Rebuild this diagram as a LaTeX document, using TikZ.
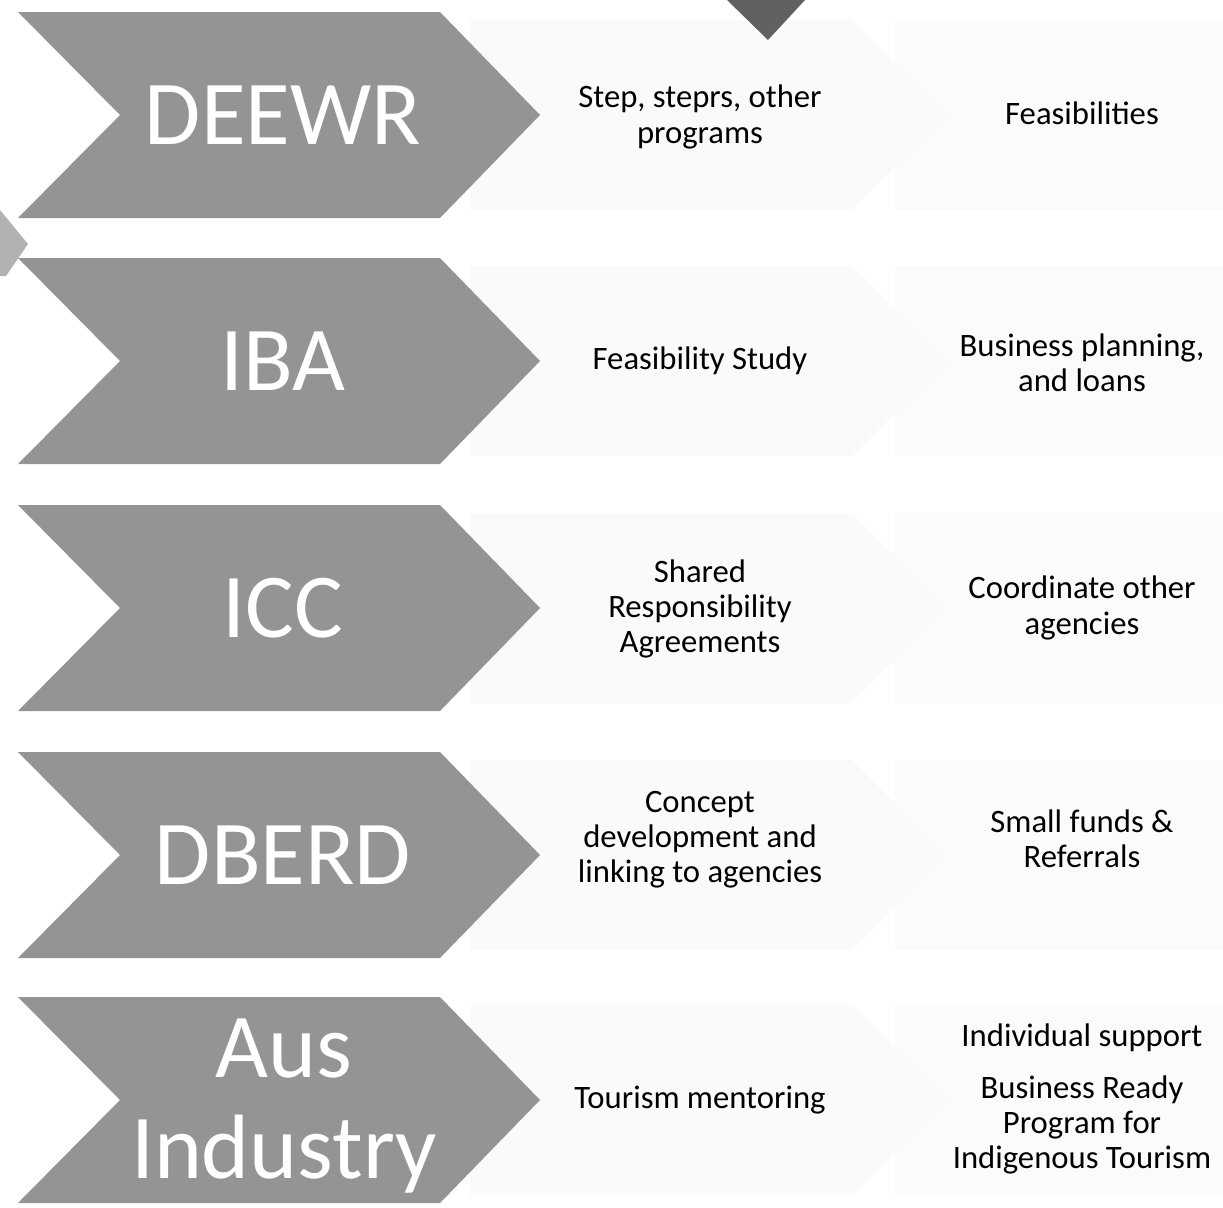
\documentclass[tikz,border=0pt]{standalone}
\usepackage{fontspec}
\setmainfont{Carlito}
\usepackage{tikz}
\usetikzlibrary{positioning}
\tikzstyle{chevron} = [fill=black!42, draw=none]
\tikzstyle{backdrop} = [fill=gray!4, draw=none]
\tikzstyle{farbackdrop} = [fill=gray!3, draw=none]
\tikzstyle{agency} = [text=white, align=center,
    font=\fontsize{52}{58}\selectfont]
\tikzstyle{service} = [text=black, align=center,
    font=\fontsize{18.6}{20}\selectfont]

\begin{document}
\begin{tikzpicture}[x=0.02cm, y=-0.02cm]
    \useasboundingbox (0,0) rectangle (1223,1207);

    % Backdrops
    \fill [farbackdrop] (895,20) rectangle (1223,210);
    \fill [farbackdrop] (895,266) rectangle (1223,456);
    \fill [farbackdrop] (895,513) rectangle (1223,703);
    \fill [farbackdrop] (895,760) rectangle (1223,950);
    \fill [farbackdrop] (895,1005) rectangle (1223,1195);
    \fill [backdrop] (470,20) -- (852,20) -- (947,115) -- (852,210) -- (470,210) -- cycle;
    \fill [backdrop] (470,266) -- (852,266) -- (947,361) -- (852,456) -- (470,456) -- cycle;
    \fill [backdrop] (470,513) -- (852,513) -- (947,608) -- (852,703) -- (470,703) -- cycle;
    \fill [backdrop] (470,760) -- (852,760) -- (947,855) -- (852,950) -- (470,950) -- cycle;
    \fill [backdrop] (470,1005) -- (852,1005) -- (947,1100) -- (852,1195) -- (470,1195) -- cycle;

    % Chevrons
    \fill [chevron] (18,12) -- (440,12) -- (540,115) -- (440,218) -- (18,218) -- (120,115) -- cycle;
    \fill [chevron] (18,258) -- (440,258) -- (540,361) -- (440,464) -- (18,464) -- (120,361) -- cycle;
    \fill [chevron] (18,505) -- (440,505) -- (540,608) -- (440,711) -- (18,711) -- (120,608) -- cycle;
    \fill [chevron] (18,752) -- (440,752) -- (540,855) -- (440,958) -- (18,958) -- (120,855) -- cycle;
    \fill [chevron] (18,997) -- (440,997) -- (540,1100) -- (440,1203) -- (18,1203) -- (120,1100) -- cycle;

    % Cut-off pieces at the edges
    \fill [black!62] (727,0) -- (805,0) -- (768,40) -- cycle;
    \fill [gray!60] (0,210) -- (28,244) -- (6,276) -- (0,276) -- cycle;

    % Nodes
    \node [agency] (deewr) at (283,115) {DEEWR};
    \node [agency] (iba) at (283,361) {IBA};
    \node [agency] (icc) at (283,608) {ICC};
    \node [agency] (dberd) at (283,855) {DBERD};
    \node [agency, inner sep=0pt] (ausind) at (284,1106) {Aus\\Industry};

    \node [service] (step) at (700,117) {Step, steprs, other\\programs};
    \node [service] (feasstudy) at (700,361) {Feasibility Study};
    \node [service] (sra) at (700,609) {Shared\\Responsibility\\Agreements};
    \node [service] (concept) at (700,840) {Concept\\development and\\linking to agencies};
    \node [service] (mentor) at (700,1100) {Tourism mentoring};

    \node [service] (feas) at (1082,113) {Feasibilities};
    \node [service] (bizplan) at (1082,363) {Business planning,\\and loans};
    \node [service] (coord) at (1082,608) {Coordinate other\\agencies};
    \node [service] (smallfunds) at (1082,839) {Small funds \&\\Referrals};
    \node [service] (indiv) at (1082,1038) {Individual support};
    \node [service] (brpit) at (1082,1125) {Business Ready\\Program for\\Indigenous Tourism};
\end{tikzpicture}
\end{document}
